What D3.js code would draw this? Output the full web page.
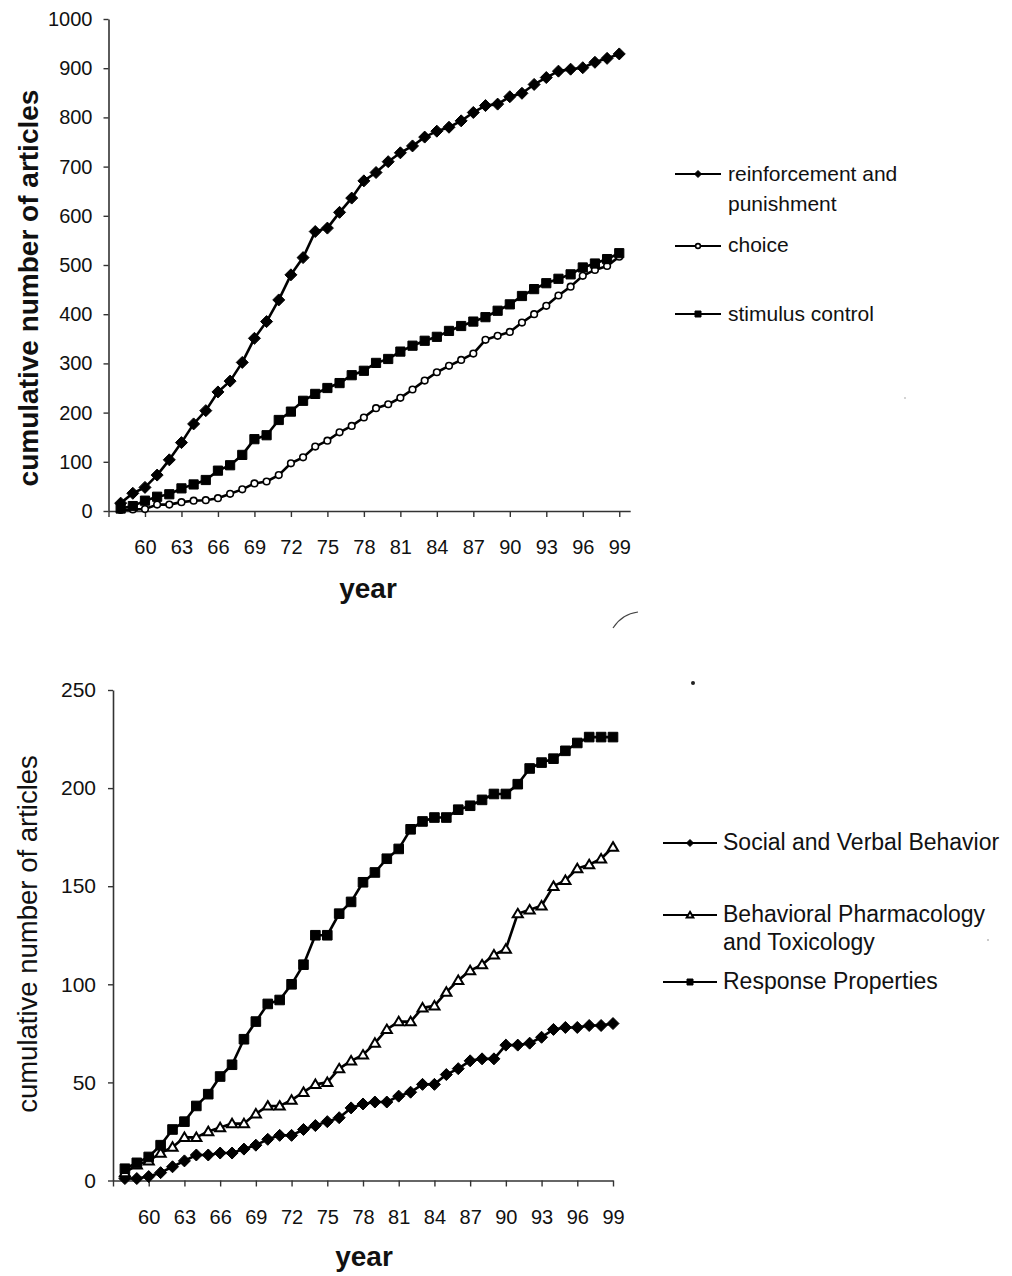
<!DOCTYPE html>
<html>
<head>
<meta charset="utf-8">
<script src="https://cdn.jsdelivr.net/npm/d3@7"></script>
<style>
  html, body { margin: 0; padding: 0; background: #fff; }
  svg { display: block; }
  text { font-family: "Liberation Sans", Arial, Helvetica, sans-serif; fill: #111; }
</style>
</head>
<body>
<svg id="chart" width="1012" height="1276"></svg>
<script>
// Publication years (1958–1999), shown as two-digit labels
const years = [58,59,60,61,62,63,64,65,66,67,68,69,70,71,72,73,74,75,76,77,78,79,
               80,81,82,83,84,85,86,87,88,89,90,91,92,93,94,95,96,97,98,99];
const yearTicks = [57,60,63,66,69,72,75,78,81,84,87,90,93,96,99];

// Upper panel: cumulative article counts
const reinforcement = [16,36,48,73,104,139,177,204,242,264,302,351,385,429,480,515,568,575,607,636,
                       671,688,710,728,742,760,772,780,793,810,824,827,842,849,867,881,894,898,901,912,920,929];
const choice        = [2,3,4,13,13,18,21,22,26,35,44,56,60,73,97,109,131,143,160,173,
                       190,209,217,230,247,265,282,295,307,320,348,356,364,383,400,417,438,456,478,490,498,517];
const stimulus      = [5,10,21,29,34,46,54,63,82,93,114,146,154,185,202,224,238,250,260,276,
                       285,301,309,324,336,346,354,366,376,385,394,407,420,437,451,463,472,481,495,503,512,524];
const topTicks = [0,100,200,300,400,500,600,700,800,900,1000];

// Lower panel: cumulative article counts
const social   = [1,1,2,4,7,10,13,13,14,14,16,18,21,23,23,26,28,30,32,37,
                  39,40,40,43,45,49,49,54,57,61,62,62,69,69,70,73,77,78,78,79,79,80];
const pharm    = [4,8,10,14,17,22,22,25,27,29,29,34,38,38,41,45,49,50,57,61,
                  64,70,77,81,81,88,89,96,102,107,110,115,118,136,138,140,150,153,159,161,164,170];
const response = [6,9,12,18,26,30,38,44,53,59,72,81,90,92,100,110,125,125,136,142,
                  152,157,164,169,179,183,185,185,189,191,194,197,197,202,210,213,215,219,223,226,226,226];
const bottomTicks = [0,50,100,150,200,250];

const svg = d3.select("#chart");

// marker shapes
function markerPath(kind, s) {
  switch (kind) {
    case "diamond": return `M0,${-s}L${s},0L0,${s}L${-s},0Z`;
    case "square":  return `M${-s},${-s}H${s}V${s}H${-s}Z`;
    case "triangle":return `M0,${-s*1.05}L${s*1.1},${s*0.8}L${-s*1.1},${s*0.8}Z`;
    default: return "";
  }
}

function drawMarkers(g, pts, kind, size) {
  if (kind === "circle") {
    g.selectAll(null).data(pts).join("circle")
      .attr("cx", d => d[0]).attr("cy", d => d[1]).attr("r", size)
      .attr("fill", "#fff").attr("stroke", "#000").attr("stroke-width", 1.6);
  } else {
    const open = kind === "triangle";
    g.selectAll(null).data(pts).join("path")
      .attr("transform", d => `translate(${d[0]},${d[1]})`)
      .attr("d", markerPath(kind, size))
      .attr("fill", open ? "#fff" : "#000")
      .attr("stroke", "#000")
      .attr("stroke-width", open ? 2 : 1)
      .attr("stroke-linejoin", "miter");
  }
}

function drawPanel(cfg) {
  const x = d3.scaleLinear().domain(cfg.xDomain).range(cfg.xRange);
  const y = d3.scaleLinear().domain(cfg.yDomain).range(cfg.yRange);
  const g = svg.append("g");

  // y axis
  const ya = g.append("g").attr("transform", `translate(${cfg.xRange[0]},0)`)
    .call(d3.axisLeft(y).tickValues(cfg.yTicks).tickSize(5).tickSizeOuter(0)
      .tickPadding(cfg.yPad).tickFormat(d3.format("d")));
  ya.select(".domain").attr("stroke", "#333").attr("stroke-width", 1.6);
  ya.selectAll(".tick line").attr("stroke", "#333").attr("stroke-width", 1.4);
  ya.selectAll(".tick text").style("font-size", cfg.yFont + "px").attr("fill", "#111");

  // x axis
  const xa = g.append("g").attr("transform", `translate(0,${cfg.yRange[0]})`)
    .call(d3.axisBottom(x).tickValues(yearTicks).tickSize(6).tickSizeOuter(0).tickPadding(23)
      .tickFormat(d => d === 57 ? "" : d));
  xa.select(".domain").attr("stroke", "#333").attr("stroke-width", 1.6);
  xa.selectAll(".tick line").attr("stroke", "#333").attr("stroke-width", 1.4);
  xa.selectAll(".tick text").style("font-size", "20px").attr("fill", "#111");

  // axis titles
  g.append("text")
    .attr("transform", `translate(${cfg.yTitleX},${cfg.yTitleY}) rotate(-90)`)
    .attr("text-anchor", "middle")
    .style("font-size", cfg.yTitleSize + "px")
    .style("font-weight", cfg.yTitleBold ? "bold" : "normal")
    .text("cumulative number of articles");
  g.append("text")
    .attr("x", cfg.xTitleX).attr("y", cfg.xTitleY)
    .attr("text-anchor", "middle")
    .style("font-size", "28px").style("font-weight", "bold")
    .text("year");

  // series
  const line = d3.line().x(d => d[0]).y(d => d[1]);
  cfg.series.forEach(s => {
    const pts = years.map((yr, i) => [x(yr), y(s.values[i])]);
    g.append("path").attr("d", line(pts))
      .attr("fill", "none").attr("stroke", "#000").attr("stroke-width", 2.6)
      .attr("stroke-linejoin", "round");
    drawMarkers(g.append("g"), pts, s.marker, s.size);
  });

  // legend
  const lg = g.append("g");
  cfg.series.forEach(s => {
    const L = s.legend;
    lg.append("line").attr("x1", cfg.legX1).attr("x2", cfg.legX2)
      .attr("y1", L.y).attr("y2", L.y).attr("stroke", "#000").attr("stroke-width", 2);
    const mx = (cfg.legX1 + cfg.legX2) / 2;
    drawMarkers(lg.append("g"), [[mx, L.y]], s.marker, s.legSize);
    L.lines.forEach((t, k) => {
      lg.append("text").attr("x", cfg.legTextX).attr("y", L.base + k * cfg.legLead)
        .style("font-size", cfg.legFont + "px").text(t);
    });
  });
}

drawPanel({
  xDomain: [57, 99.9], xRange: [108.5, 630.2],
  yDomain: [0, 1000], yRange: [511, 19],
  yTicks: topTicks, yPad: 11, yFont: 20,
  yTitleX: 38, yTitleY: 288, yTitleSize: 28, yTitleBold: true,
  xTitleX: 368, xTitleY: 598,
  legX1: 675, legX2: 721, legTextX: 728, legFont: 21, legLead: 30,
  series: [
    { values: reinforcement, marker: "diamond", size: 6, legSize: 3.5,
      legend: { y: 174, base: 181, lines: ["reinforcement and", "punishment"] } },
    { values: choice, marker: "circle", size: 3.3, legSize: 2.4,
      legend: { y: 246, base: 252, lines: ["choice"] } },
    { values: stimulus, marker: "square", size: 4.6, legSize: 3,
      legend: { y: 314, base: 321, lines: ["stimulus control"] } }
  ]
});

drawPanel({
  xDomain: [57, 99], xRange: [113, 613],
  yDomain: [0, 250], yRange: [1180.5, 690],
  yTicks: bottomTicks, yPad: 12, yFont: 21,
  yTitleX: 37, yTitleY: 934, yTitleSize: 27.5, yTitleBold: false,
  xTitleX: 364, xTitleY: 1266,
  legX1: 663, legX2: 717, legTextX: 723, legFont: 23, legLead: 28,
  series: [
    { values: social, marker: "diamond", size: 6, legSize: 3.5,
      legend: { y: 843, base: 850, lines: ["Social and Verbal Behavior"] } },
    { values: pharm, marker: "triangle", size: 4.6, legSize: 3,
      legend: { y: 915, base: 922, lines: ["Behavioral Pharmacology", "and Toxicology"] } },
    { values: response, marker: "square", size: 4.8, legSize: 3,
      legend: { y: 982, base: 989, lines: ["Response Properties"] } }
  ]
});

// small stray marks on the page
svg.append("path").attr("d", "M613,628 Q622,614 638,612")
  .attr("fill", "none").attr("stroke", "#444").attr("stroke-width", 1.2);
svg.append("circle").attr("cx", 693).attr("cy", 683).attr("r", 2).attr("fill", "#222");
svg.append("circle").attr("cx", 905).attr("cy", 398).attr("r", 0.7).attr("fill", "#888");
svg.append("circle").attr("cx", 988).attr("cy", 940).attr("r", 0.8).attr("fill", "#888");
</script>
</body>
</html>
